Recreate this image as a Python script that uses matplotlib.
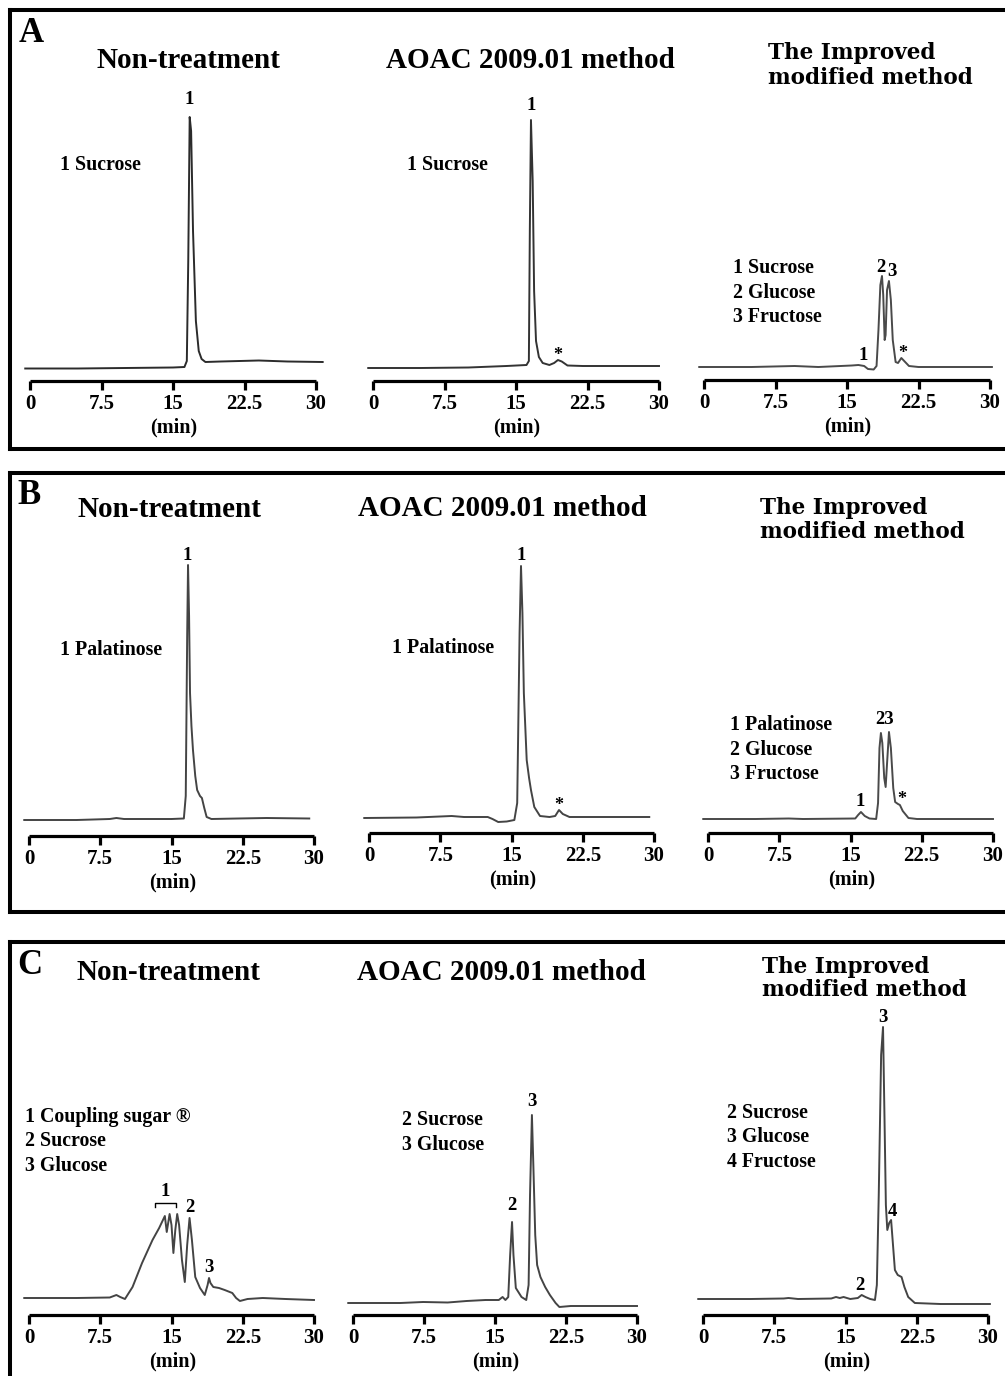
import matplotlib
matplotlib.use('Agg')
import matplotlib.pyplot as plt
from matplotlib.lines import Line2D

W, H, DPI = 1005, 1376, 100
SERIF = ['Liberation Serif', 'DejaVu Serif']

# ---------------- data (retention time in min, detector response in a.u.) ----------------
a1_t = [-0.5, 5, 10, 15, 16.2, 16.45, 16.6, 16.75, 16.9, 17.1, 17.4, 17.7, 18.0, 18.4, 20, 24, 27, 30.7]
a1_h = [12.5, 12.5, 13, 13.5, 14, 20, 120, 264, 250, 150, 60, 30, 22, 19, 19.5, 20.5, 19.5, 19]

a2_t = [-0.5, 5, 10, 14, 16.1, 16.35, 16.45, 16.57, 16.75, 16.9, 17.1, 17.4, 17.8, 18.5, 19.0, 19.4, 19.8, 20.4, 22, 30]
a2_h = [13, 13, 13.5, 15, 16, 20, 150, 261, 200, 90, 40, 24, 18, 16, 18, 21, 19.5, 15.5, 15, 15]

a3_t = [-0.5, 5, 9.5, 12, 15.5, 16.2, 16.8, 17.2, 17.8, 18.1, 18.3, 18.5, 18.67, 18.8, 18.95, 19.05,
        19.2, 19.4, 19.6, 19.8, 20.1, 20.35, 20.7, 21.0, 21.5, 22.5, 26, 30.2]
a3_h = [13, 13, 14, 13, 14.5, 15, 14, 11, 10.5, 14, 50, 95, 104, 85, 40, 45,
        90, 99, 80, 40, 18, 17, 22, 19, 14, 13, 13, 13]

b1_t = [-0.5, 5, 8.5, 9.2, 10, 15, 16.3, 16.5, 16.65, 16.74, 16.85, 16.95, 17.1, 17.26, 17.5, 17.7,
        18.0, 18.2, 18.45, 18.7, 19.2, 22, 25, 29.5]
b1_h = [16, 16, 17, 18, 17, 17, 17.5, 40, 200, 271, 220, 143, 110, 86, 60, 46,
        40, 38, 28, 19, 17, 17.5, 18, 17.5]

b2_t = [-0.5, 5, 8.7, 10, 12.5, 13.0, 13.6, 14.5, 15.3, 15.6, 15.85, 16.0, 16.15, 16.3, 16.6, 16.85,
        17.05, 17.4, 18.0, 19.0, 19.6, 20.0, 20.4, 21.1, 25, 29.5]
b2_h = [15, 15.5, 17, 16, 16, 14, 11, 11.5, 13, 30, 200, 267, 220, 140, 73, 55,
        43, 26, 17, 16, 17, 23, 19, 16, 16, 16]

b3_t = [-0.5, 5, 8.5, 10, 15.5, 15.8, 16.1, 16.5, 17.0, 17.7, 17.9, 18.05, 18.2, 18.35, 18.55, 18.7,
        18.85, 19.05, 19.25, 19.5, 19.7, 20.0, 20.2, 20.5, 21.1, 22, 30]
b3_h = [14, 14, 14.5, 14, 14.5, 18, 21, 17, 14.5, 14, 30, 85, 100, 90, 55, 46,
        70, 101, 85, 45, 31, 29, 28, 22, 15, 14, 14]

c1_t = [-0.5, 5, 8.5, 9.2, 9.6, 10.1, 10.9, 11.9, 13.0, 13.7, 14.1, 14.3, 14.5, 14.8, 15.0, 15.2,
        15.4, 15.6, 15.8, 16.1, 16.4, 16.65, 16.9, 17.15, 17.5, 18.0, 18.5, 18.8, 18.95, 19.1,
        19.4, 20.0, 20.6, 21.4, 21.8, 22.2, 23, 24.6, 27, 30]
c1_h = [17, 17, 17.5, 20, 18, 16, 28, 52, 75, 87, 95, 99, 83, 101, 90, 62,
        85, 101, 90, 55, 33, 70, 97, 75, 38, 27, 20, 30, 37, 32,
        28, 27, 25, 22, 17, 14, 16, 17, 16, 15]

c2_t = [-0.5, 5, 7.4, 10, 12, 14, 15.4, 15.8, 16.1, 16.4, 16.6, 16.8, 16.95, 17.2, 17.8, 18.3,
        18.55, 18.7, 18.9, 19.05, 19.25, 19.45, 19.8, 20.3, 20.8, 21.4, 21.8, 23, 30]
c2_h = [12, 12, 13, 12.5, 14, 15, 15, 18, 15, 18, 60, 93, 60, 27, 18, 15,
        30, 120, 200, 150, 80, 50, 38, 28, 20, 12, 8, 9, 9]

c3_t = [-0.5, 5, 8.5, 9.0, 10, 13.5, 14.0, 14.4, 14.8, 15.5, 16.3, 16.7, 17.1, 17.6, 18.1, 18.3,
        18.5, 18.75, 18.95, 19.1, 19.25, 19.4, 19.6, 19.8, 20.0, 20.2, 20.5, 20.9, 21.2, 21.6,
        22.3, 25, 30.2]
c3_h = [16, 16, 16.5, 17, 16, 16.5, 18, 17, 18, 16, 17, 20, 18, 16, 15, 30,
        120, 260, 288, 200, 110, 85, 92, 95, 70, 45, 40, 38, 28, 18,
        12, 11, 11]

xticks = [0, 7.5, 15, 22.5, 30]
xtick_labels = ['0', '7.5', '15', '22.5', '30']

title_non = 'Non-treatment'
title_aoac = 'AOAC 2009.01 method'
title_imp = ['The Improved', 'modified method']

legend_a1 = ['1 Sucrose']
legend_a2 = ['1 Sucrose']
legend_a3 = ['1 Sucrose', '2 Glucose', '3 Fructose']
legend_b1 = ['1 Palatinose']
legend_b2 = ['1 Palatinose']
legend_b3 = ['1 Palatinose', '2 Glucose', '3 Fructose']
legend_c1 = ['1 Coupling sugar \u00ae', '2 Sucrose', '3 Glucose']
legend_c2 = ['2 Sucrose', '3 Glucose']
legend_c3 = ['2 Sucrose', '3 Glucose', '4 Fructose']

# peak annotations: label, time, response
peaks_a1 = [('1', 16.7, 281)]
peaks_a2 = [('1', 16.6, 276), ('*', 19.4, 26)]
peaks_a3 = [('1', 16.7, 25), ('2', 18.6, 113), ('3', 19.75, 108), ('*', 20.9, 27)]
peaks_b1 = [('1', 16.7, 281)]
peaks_b2 = [('1', 16.0, 278), ('*', 20.0, 28)]
peaks_b3 = [('1', 16.0, 31), ('23', 18.6, 113), ('*', 20.4, 33)]
peaks_c1 = [('1', 14.3, 124), ('2', 16.9, 108), ('3', 18.9, 48)]
peaks_c2 = [('2', 16.8, 110), ('3', 18.9, 213)]
peaks_c3 = [('2', 16.5, 30), ('3', 18.9, 297), ('4', 19.95, 103)]
bracket_c1 = (13.3, 15.5, 112)   # start, end, level of the "1" bracket

# ---------------- layout (pixels) ----------------
fig = plt.figure(figsize=(W / DPI, H / DPI), dpi=DPI)
fig.patch.set_facecolor('white')


def fx(px):
    return px / W


def fy(py):
    return 1 - py / H


def ftext(px, py, s, size, ha='center', family=SERIF, weight='bold'):
    fig.text(fx(px), fy(py), s, fontsize=size, ha=ha, va='center',
             family=family, weight=weight, color='black')


AX_H = 320  # px height of each axes (response units == px)

subplots = [
    # t, h, x0, x30, yaxis, color, legend, legend_x, legend_y0, peaks
    (a1_t, a1_h, 30, 316, 381, '#2b2b2b', legend_a1, 60, 165, peaks_a1),
    (a2_t, a2_h, 373, 659, 381, '#333333', legend_a2, 407, 165, peaks_a2),
    (a3_t, a3_h, 704, 990, 380, '#4a4a4a', legend_a3, 733, 268, peaks_a3),
    (b1_t, b1_h, 29, 314, 836, '#444444', legend_b1, 60, 650, peaks_b1),
    (b2_t, b2_h, 369, 654, 833, '#444444', legend_b2, 392, 648, peaks_b2),
    (b3_t, b3_h, 708, 993, 833, '#4a4a4a', legend_b3, 730, 725, peaks_b3),
    (c1_t, c1_h, 29, 314, 1315, '#444444', legend_c1, 25, 1117, peaks_c1),
    (c2_t, c2_h, 353, 637, 1315, '#444444', legend_c2, 402, 1120, peaks_c2),
    (c3_t, c3_h, 703, 988, 1315, '#444444', legend_c3, 727, 1113, peaks_c3),
]

LEG_STEP = 24.5
axes = []
for (t, h, x0, x30, ya, col, leg, lx, ly, pk) in subplots:
    ax = fig.add_axes([fx(x0), fy(ya), (x30 - x0) / W, AX_H / H])
    ax.set_xlim(0, 30)
    ax.set_ylim(0, AX_H)
    ax.patch.set_alpha(0)
    for s in ('top', 'right', 'left'):
        ax.spines[s].set_visible(False)
    ax.spines['bottom'].set_linewidth(2.3)
    ax.spines['bottom'].set_capstyle('butt')
    ax.set_yticks([])
    ax.set_xticks(xticks)
    ax.set_xticklabels(xtick_labels, family=SERIF, weight='bold', fontsize=15)
    ax.tick_params(axis='x', direction='out', length=6.5, width=2.3, pad=3.0, colors='black')
    ax.plot(t, h, color=col, lw=1.4, clip_on=False, solid_joinstyle='round')
    for lab, pt, ph in pk:
        if lab == '*':
            ax.text(pt, ph, lab, fontsize=13, ha='center', va='center', family=SERIF, weight='bold')
        else:
            ax.text(pt, ph, lab, fontsize=13.5, ha='center', va='center', family=SERIF, weight='bold')
    for i, s in enumerate(leg):
        ftext(lx, ly + i * LEG_STEP, s, 14.3, ha='left')
    ftext((x0 + x30) / 2 + 1, ya + 46, '(min)', 14.5)
    axes.append(ax)

# bracket above the coupling sugar cluster
b0, b1, bl = bracket_c1
axes[6].plot([b0, b0, b1, b1], [bl - 4, bl, bl, bl - 4], color='black', lw=1.0, clip_on=False)

# titles
ftext(188, 60, title_non, 21)
ftext(530, 60, title_aoac, 21)
ftext(169, 509, title_non, 21)
ftext(502, 508, title_aoac, 21)
ftext(168, 972, title_non, 21)
ftext(501, 972, title_aoac, 21)
IMP = ['DejaVu Serif']
for (xl, y1, y2) in [(768, 53, 78), (760, 508, 532), (762, 967, 990)]:
    ftext(xl, y1, title_imp[0], 15.5, ha='left', family=IMP)
    ftext(xl, y2, title_imp[1], 15.5, ha='left', family=IMP)

# panel letters
ftext(31, 33, 'A', 25)
ftext(29, 496, 'B', 25)
ftext(30, 966, 'C', 25)

# panel frames
BW = 2.9


def hline(py, x1, x2):
    fig.add_artist(Line2D([fx(x1), fx(x2)], [fy(py), fy(py)], color='black', lw=BW,
                          solid_capstyle='projecting'))


def vline(px, y1, y2):
    fig.add_artist(Line2D([fx(px), fx(px)], [fy(y1), fy(y2)], color='black', lw=BW,
                          solid_capstyle='projecting'))


hline(10, 10, 1010)
hline(449, 10, 1010)
vline(10, 10, 449)
hline(473, 10, 1010)
hline(912, 10, 1010)
vline(10, 473, 912)
hline(942, 10, 1010)
vline(10, 942, 1380)

fig.savefig('out.png', dpi=DPI, facecolor='white')
